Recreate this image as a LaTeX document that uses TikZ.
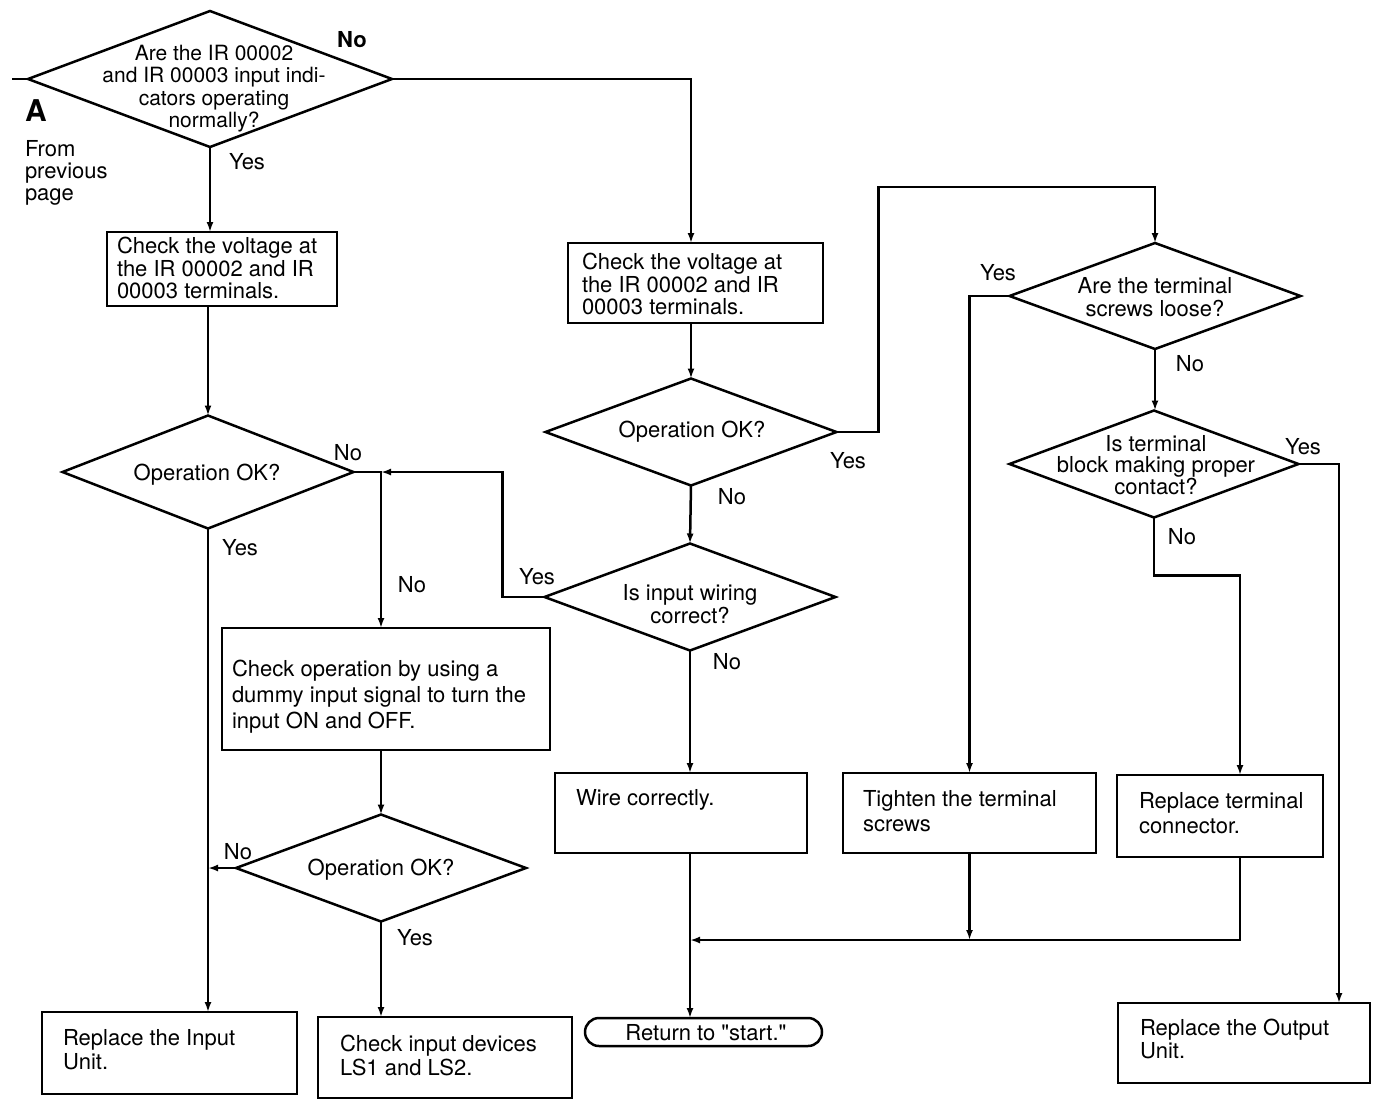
\documentclass[tikz,border=0pt]{standalone}
\usepackage{fontspec}
\setmainfont{TeX Gyre Heros}[Ligatures=TeXOff]
\usetikzlibrary{arrows.meta,shapes.geometric,shapes.misc,calc}
\begin{document}
\begin{tikzpicture}[x=1pt,y=-1pt,
  line width=2.5pt,
  every node/.style={inner sep=0pt, outer sep=0pt, font=\fontsize{22}{24}\selectfont},
  dia/.style={draw, diamond, inner sep=0pt},
  box/.style={draw, rectangle, inner sep=0pt},
  term/.style={draw, rounded rectangle, inner sep=0pt},
  btxt/.style={align=left, anchor=west},
  dtxt/.style={align=center, font=\fontsize{22}{22.5}\selectfont},
  lbl/.style={font=\fontsize{22}{22}\selectfont},
  arr/.style={-{Latex[length=10pt,width=7pt]}},
]
\fill[white] (0,0) rectangle (1379,1104);
\useasboundingbox (0,0) rectangle (1379,1104);

% ---------- decisions ----------
\node[dia, minimum width=364pt, minimum height=136pt] (d1) at (210,79) {};
\node[dtxt, font=\fontsize{21}{22.3}\selectfont] (d1t) at (214,88.5) {Are the IR 00002\\and IR 00003 input indi-\\cators operating\\normally?};
\node[dia, minimum width=291pt, minimum height=113pt] (d2) at (208,472) {};
\node[dtxt] (d2t) at (207,475) {Operation OK?};
\node[dia, minimum width=290pt, minimum height=107pt] (d3) at (381,868) {};
\node[dtxt] (d3t) at (381,870) {Operation OK?};
\node[dia, minimum width=291pt, minimum height=107pt] (d4) at (691,432) {};
\node[dtxt] (d4t) at (692,432) {Operation OK?};
\node[dia, minimum width=291pt, minimum height=107pt] (d5) at (690,597) {};
\node[dtxt] (d5t) at (690,604) {Is input wiring\\correct?};
\node[dia, minimum width=291pt, minimum height=106pt] (d6) at (1155,296) {};
\node[dtxt, font=\fontsize{22}{23}\selectfont] (d6t) at (1155,297) {Are the terminal\\screws loose?};
\node[dia, minimum width=289pt, minimum height=107pt] (d7) at (1154,464) {};
\node[dtxt, font=\fontsize{22}{21.5}\selectfont] (d7t) at (1156,465) {Is terminal\\block making proper\\contact?};

% ---------- process boxes ----------
\node[box, minimum width=230pt, minimum height=74pt] (b1) at (222,269) {};
\node[btxt, font=\fontsize{22}{22.5}\selectfont] (b1t) at (117,268) {Check the voltage at\\the IR 00002 and IR\\00003 terminals.};
\node[box, minimum width=255pt, minimum height=80pt] (b2) at (695.5,283) {};
\node[btxt, font=\fontsize{22}{22.5}\selectfont] (b2t) at (582,284) {Check the voltage at\\the IR 00002 and IR\\00003 terminals.};
\node[box, minimum width=328pt, minimum height=122pt] (b3) at (386,689) {};
\node[btxt, font=\fontsize{22}{26}\selectfont] (b3t) at (232,697) {Check operation by using a\\dummy input signal to turn the\\input ON and OFF.};
\node[box, minimum width=255pt, minimum height=82pt] (b4) at (169.5,1053) {};
\node[btxt] (b4t) at (63,1050) {Replace the Input\\Unit.};
\node[box, minimum width=254pt, minimum height=81pt] (b5) at (445,1057.5) {};
\node[btxt] (b5t) at (340,1055) {Check input devices\\LS1 and LS2.};
\node[box, minimum width=252pt, minimum height=80pt] (b6) at (681,813) {};
\node[btxt] (b6t) at (576,800) {Wire correctly.};
\node[box, minimum width=253pt, minimum height=80pt] (b7) at (969.5,813) {};
\node[btxt, font=\fontsize{22}{25}\selectfont] (b7t) at (863,811) {Tighten the terminal\\screws};
\node[box, minimum width=206pt, minimum height=82pt] (b8) at (1220,816) {};
\node[btxt, font=\fontsize{22}{25}\selectfont] (b8t) at (1139,813) {Replace terminal\\connector.};
\node[box, minimum width=252pt, minimum height=80pt] (b9) at (1244,1043) {};
\node[btxt, font=\fontsize{22}{23}\selectfont] (b9t) at (1140,1039) {Replace the Output\\Unit.};
\node[term, minimum width=237pt, minimum height=28pt] (tm) at (703.5,1032) {};
\node[dtxt] (tmt) at (706,1033) {Return to "start."};

% ---------- labels ----------
\node[lbl, font=\bfseries\fontsize{22}{22}\selectfont] (l1) at (352,40) {No};
\node[font=\bfseries\fontsize{30}{30}\selectfont] (lA) at (36,111) {A};
\node[lbl, align=left, anchor=west] (lfrom) at (25,173) {From\\previous\\page};
\node[lbl] (l2) at (247,162) {Yes};
\node[lbl] (l3) at (348,453) {No};
\node[lbl] (l4) at (240,548) {Yes};
\node[lbl] (l5) at (412,585) {No};
\node[lbl] (l6) at (238,852) {No};
\node[lbl] (l7) at (415,938) {Yes};
\node[lbl] (l8) at (848,461) {Yes};
\node[lbl] (l9) at (732,497) {No};
\node[lbl] (l10) at (537,577) {Yes};
\node[lbl] (l11) at (727,662) {No};
\node[lbl] (l12) at (998,273) {Yes};
\node[lbl] (l13) at (1190,364) {No};
\node[lbl] (l14) at (1303,447) {Yes};
\node[lbl] (l15) at (1182,537) {No};

% ---------- connectors ----------
\coordinate (inA) at (12,79);
\coordinate (j) at (690,940);
\draw (inA) -- (d1.west);
\draw[arr] (d1.east) -| (d4.north |- b2.north);
\draw[arr] (d1.south) -- (d1.south |- b1.north);
\draw[arr] (d2.north |- b1.south) -- (d2.north);
\draw[arr] (d2.south) -- (d2.south |- b4.north);
\draw[arr] (d2.east) -| (d3.north |- b3.north);
\draw[arr] (d5.west) -- ++(-42,0) |- (d3.north |- d2.east);
\draw[arr] (d3.north |- b3.south) -- (d3.north);
\draw[arr] (d3.west) -- (d2.south |- d3.west);
\draw[arr] (d3.south) -- (d3.south |- b5.north);
\draw[arr] (d4.north |- b2.south) -- (d4.north);
\draw[arr] (d4.east) -- ++(42,0) |- ($(d6.north)+(0,-56)$) -- (d6.north);
\draw[arr] (d4.south) -- (d5.north);
\draw[arr] (d5.south) -- (d5.south |- b6.north);
\draw[arr] (d5.south |- b6.south) -- (d5.south |- tm.north);
\draw[arr] (d6.west) -| (b7.north);
\draw[arr] (d6.south) -- (d6.south |- d7.north);
\draw[arr] (d7.east) -| ([xshift=-31pt]b9.north east);
\draw[arr] (d7.south) -- ++(0,58) -| ([xshift=20pt]b8.north);
\draw[arr] (b7.south) -- (b7.south |- j);
\draw[arr] ([xshift=20pt]b8.south) |- (j);
\end{tikzpicture}
\end{document}
